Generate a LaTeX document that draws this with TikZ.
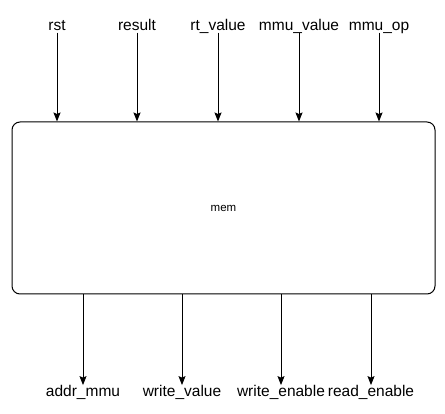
\documentclass[tikz,border=0pt]{standalone}
\usepackage{fontspec}
\setmainfont{Liberation Sans}
\usetikzlibrary{arrows.meta, positioning}

\begin{document}
\begin{tikzpicture}[
x=1pt, y=-1pt,
sig/.style={inner sep=1pt, anchor=base, text height=0.72em, text depth=0.1em, font=\fontsize{15.5}{18}\selectfont},
block/.style={draw, line width=1pt, rounded corners=8pt, minimum width=423pt, minimum height=172pt, font=\fontsize{11.5}{14}\selectfont},
wire/.style={line width=1pt, -{Stealth[length=9pt, width=7pt, inset=1.5pt]}}
]
\useasboundingbox (0,0) rectangle (445,414);

\node[block] (mem) at (223.5,208) {mem};

% inputs
\node[sig] (rst) at (57,30.5) {rst};
\node[sig] (result) at (137,30.5) {result};
\node[sig] (rtvalue) at (218,30.5) {rt\_value};
\node[sig] (mmuvalue) at (299,30.5) {mmu\_value};
\node[sig] (mmuop) at (379,30.5) {mmu\_op};

% outputs
\node[sig] (addrmmu) at (83,397) {addr\_mmu};
\node[sig] (writevalue) at (182,397) {write\_value};
\node[sig] (writeenable) at (281,397) {write\_enable};
\node[sig] (readenable) at (371,397) {read\_enable};

\foreach \s in {rst, result, rtvalue, mmuvalue, mmuop}
  \draw[wire] (\s) -- (\s |- mem.north);

\foreach \s in {addrmmu, writevalue, writeenable, readenable}
  \draw[wire, shorten >=3.5pt] (\s |- mem.south) -- (\s);

\end{tikzpicture}
\end{document}
